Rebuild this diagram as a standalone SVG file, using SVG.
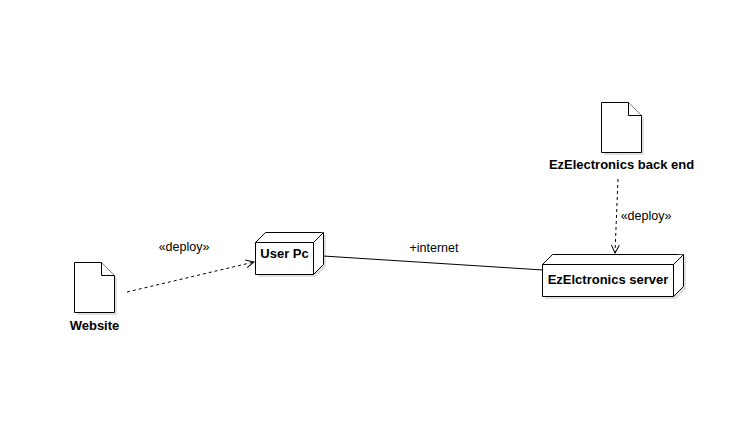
<svg xmlns="http://www.w3.org/2000/svg" width="729" height="423" viewBox="0 0 729 423">
  <style>
    .shape { fill: #ffffff; stroke: #000000; stroke-width: 1; }
    .shadow { fill: #000000; fill-opacity: 0.12; stroke: none; }
    .lbl { font-family: "Liberation Sans", Arial, sans-serif; font-size: 13px; font-weight: bold; fill: #000000; text-anchor: middle; }
    .edge-lbl { font-family: "Liberation Sans", Arial, sans-serif; font-size: 12.5px; fill: #000000; text-anchor: middle; }
    .edge { fill: none; stroke: #000000; stroke-width: 1; }
    .dashed { stroke-dasharray: 3 3; }
  </style>
  <defs>
    <marker id="open-arrow" viewBox="0 0 10 10" refX="9" refY="5" markerWidth="10" markerHeight="10" markerUnits="userSpaceOnUse" orient="auto">
      <path d="M1,1 L9,5 L1,9" fill="none" stroke="#000000" stroke-width="1"/>
    </marker>
  </defs>
  <rect width="729" height="423" fill="#ffffff"/>

  <!-- connectors -->
  <g id="connectors">
    <path class="edge dashed" d="M127,292 L254,262" marker-end="url(#open-arrow)"/>
    <text class="edge-lbl" x="184" y="251">«deploy»</text>
    <path class="edge" d="M323,256 L543,270"/>
    <text class="edge-lbl" x="434" y="252">+internet</text>
    <path class="edge dashed" d="M618,179 L615,253" marker-end="url(#open-arrow)"/>
    <text class="edge-lbl" x="646" y="220">«deploy»</text>
  </g>

  <!-- artifact: Website -->
  <g id="website">
    <path class="shadow" d="M77,265 L104,265 L117,278 L117,315 L77,315 Z"/>
    <path class="shape" d="M74.5,262.5 L101.5,262.5 L114.5,275.5 L114.5,312.5 L74.5,312.5 Z"/>
    <path class="shape" d="M101.5,262.5 L101.5,275.5 L114.5,275.5" fill="none"/>
    <text class="lbl" x="94.5" y="330">Website</text>
  </g>

  <!-- node: User Pc -->
  <g id="user-pc">
    <path class="shadow" d="M258,245 L268,235 L326,235 L326,267 L316,277 L258,277 Z"/>
    <path class="shape" d="M255.5,242.5 L265.5,232.5 L323.5,232.5 L323.5,264.5 L313.5,274.5 L255.5,274.5 Z"/>
    <path class="shape" d="M255.5,242.5 L313.5,242.5 L323.5,232.5 M313.5,242.5 L313.5,274.5" fill="none"/>
    <text class="lbl" x="284.5" y="258">User Pc</text>
  </g>

  <!-- artifact: EzElectronics back end -->
  <g id="backend">
    <path class="shadow" d="M604,105 L631,105 L644,118 L644,155 L604,155 Z"/>
    <path class="shape" d="M601.5,102.5 L628.5,102.5 L641.5,115.5 L641.5,152.5 L601.5,152.5 Z"/>
    <path class="shape" d="M628.5,102.5 L628.5,115.5 L641.5,115.5" fill="none"/>
    <text class="lbl" x="621.5" y="169">EzElectronics back end</text>
  </g>

  <!-- node: EzElctronics server -->
  <g id="server">
    <path class="shadow" d="M545,267 L555,257 L686,257 L686,289 L676,299 L545,299 Z"/>
    <path class="shape" d="M542.5,264.5 L552.5,254.5 L683.5,254.5 L683.5,286.5 L673.5,296.5 L542.5,296.5 Z"/>
    <path class="shape" d="M542.5,264.5 L673.5,264.5 L683.5,254.5 M673.5,264.5 L673.5,296.5" fill="none"/>
    <text class="lbl" x="608" y="284">EzElctronics server</text>
  </g>
</svg>
